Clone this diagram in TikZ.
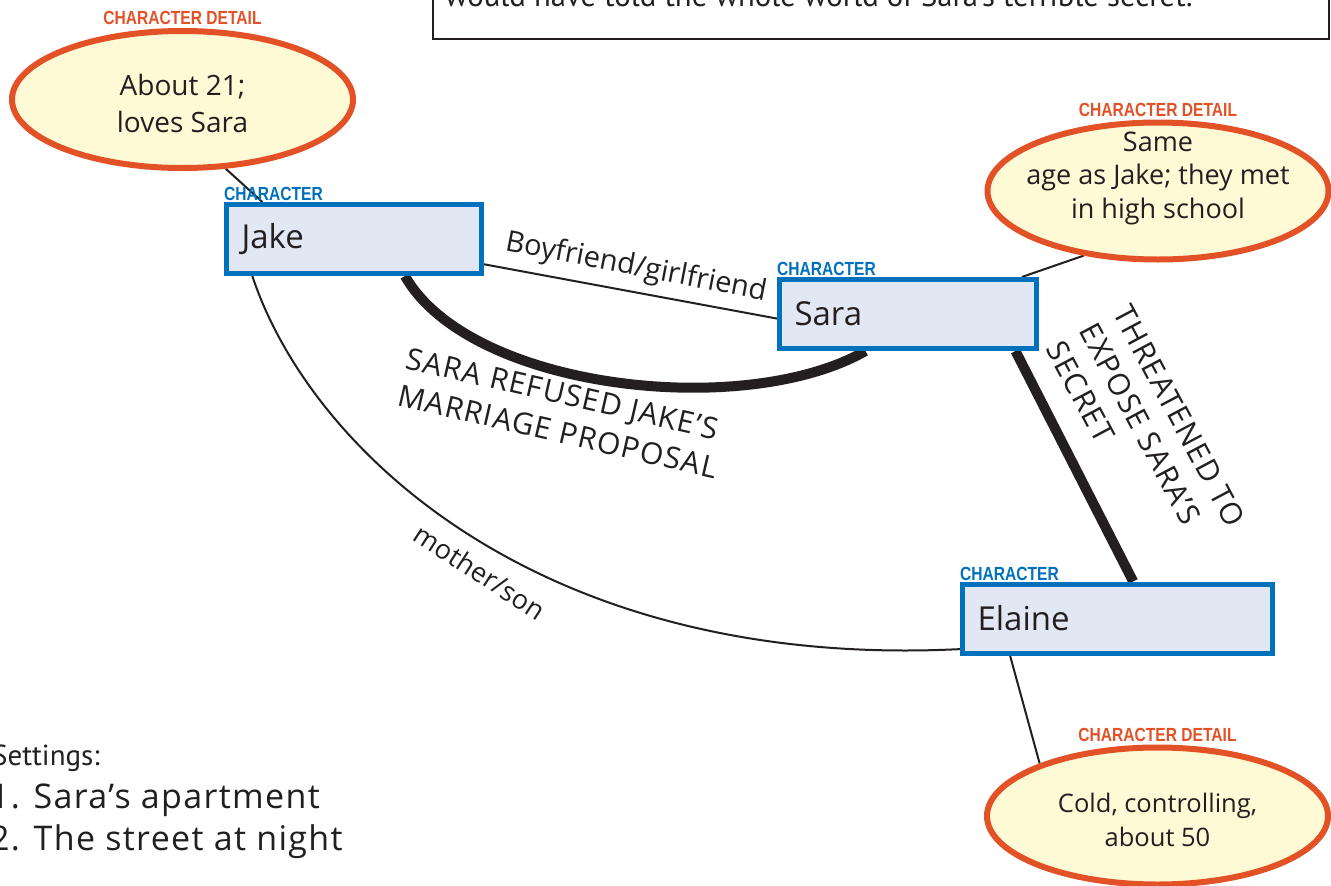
\documentclass[tikz,border=0pt]{standalone}
\usepackage{fontspec}
\setmainfont{Open Sans}
\newfontfamily\labfont[FakeStretch=0.82]{Liberation Sans}
\newfontfamily\myr{PT Sans}
\newfontfamily\capsfont[LetterSpace=4]{Open Sans}
\usetikzlibrary{shapes.geometric}
\pgfdeclarelayer{bg}
\pgfsetlayers{bg,main}
\definecolor{detorange}{HTML}{E35227}
\definecolor{detfill}{HTML}{FFFAD6}
\definecolor{charblue}{HTML}{0071BC}
\definecolor{charfill}{HTML}{E1E8F4}
\definecolor{ink}{HTML}{231F20}
\begin{document}
\begin{tikzpicture}[x=1pt,y=-1pt,
  charbox/.style={rectangle, draw=charblue, line width=5pt, fill=charfill,
    minimum height=69pt, inner xsep=15pt, inner ysep=0pt, align=left, text=ink,
    font=\fontsize{33}{40}\selectfont},
  detail/.style={ellipse, draw=detorange, line width=6pt, fill=detfill,
    minimum width=341pt, minimum height=137pt, inner sep=0pt},
  hw/.style={text=ink, font=\fontsize{27}{34}\selectfont, align=center, inner sep=0pt},
  chlabel/.style={text=charblue, font=\labfont\bfseries\fontsize{19}{22}\selectfont,
    inner sep=0pt, anchor=south west},
  detlabel/.style={text=detorange, font=\labfont\bfseries\fontsize{19}{22}\selectfont,
    inner sep=0pt, anchor=south},
  link/.style={draw=ink, line width=2pt},
  strong/.style={draw=ink, line width=10pt},
  caps/.style={text=ink, font=\capsfont\fontsize{30}{38}\selectfont, align=left, inner sep=0pt},
]
\useasboundingbox (0,0) rectangle (1331,886);

% story box (cut off at top)
\node[rectangle, draw=ink, line width=2.5pt, minimum width=896pt, minimum height=100pt,
  inner sep=0pt] (story) at (881,-11) {};
\node[anchor=base west, inner sep=0pt, text=ink, font=\myr\fontsize{30.7}{36}\selectfont]
  (storytext) at (445,6) {would have told the whole world of Sara’s terrible secret.};

% character boxes
\node[charbox, text width=225pt] (jake) at (354,239) {Jake};
\node[charbox, text width=227pt] (sara) at (908,314) {Sara};
\node[charbox, text width=280pt] (elaine) at (1117.5,618.5) {Elaine};
\node[chlabel] (jakelab) at ([yshift=1pt]jake.north west) {CHARACTER};
\node[chlabel] (saralab) at ([yshift=1pt]sara.north west) {CHARACTER};
\node[chlabel] (elainelab) at ([yshift=1pt]elaine.north west) {CHARACTER};

% detail ellipses
\node[detail] (jdet) at (182.5,99.5) {};
\node[hw, font=\fontsize{28}{37}\selectfont] (jdettext) at (182.5,103) {About 21;\\loves Sara};
\node[detlabel] (jdetlab) at ([yshift=3pt]jdet.north) {CHARACTER DETAIL};

\node[detail] (sdet) at (1158,191) {};
\node[hw, font=\fontsize{27}{33.5}\selectfont] (sdettext) at (1158,178) {Same\\age as Jake; they met\\in high school};
\node[detlabel] (sdetlab) at ([yshift=3pt]sdet.north) {CHARACTER DETAIL};

\node[detail] (edet) at (1157.5,816) {};
\node[hw, font=\fontsize{25.5}{34}\selectfont] (edettext) at (1157.5,820) {Cold, controlling,\\about 50};
\node[detlabel] (edetlab) at ([yshift=3pt]edet.north) {CHARACTER DETAIL};

% connectors
\begin{pgfonlayer}{bg}
\fill[white] (0,0) rectangle (1331,886);
\draw[link] (jdet.-58) -- (jake.158);
\draw[link] (sara.18) -- (sdet.221);
\draw[link] (elaine.199) -- (edet.156);
\draw[link] (jake.-11) -- (sara.182.7);
\draw[link] (jake.200) .. controls (310,450) and (540,670) .. (elaine.191);
\draw[strong] (jake.-36) .. controls (470,390) and (745,420) .. (sara.221.5);
\draw[strong] (sara.-19.5) -- (elaine.67.5);
\end{pgfonlayer}

% connector labels
\node[hw, rotate=-11, font=\fontsize{29}{34}\selectfont] (bflab) at (636,268) {Boyfriend/girlfriend};
\node[hw, rotate=-33] (mslab) at (480,572) {mother/son};
\node[caps, rotate=-13] (reflab) at (562,413) {SARA REFUSED JAKE’S\\MARRIAGE PROPOSAL};
\node[caps, rotate=-62] (thrlab) at (1146,434) {THREATENED TO\\EXPOSE SARA’S\\SECRET};

% settings
\node[anchor=west, inner sep=0pt, text=ink, font=\myr\fontsize{29}{34}\selectfont] (settings) at (-8,758) {Settings:};
\node[anchor=west, inner sep=0pt, text=ink, font=\capsfont\fontsize{34}{42}\selectfont, align=left] (setlist) at (-10,821) {1. Sara’s apartment\\2. The street at night};
\end{tikzpicture}
\end{document}
